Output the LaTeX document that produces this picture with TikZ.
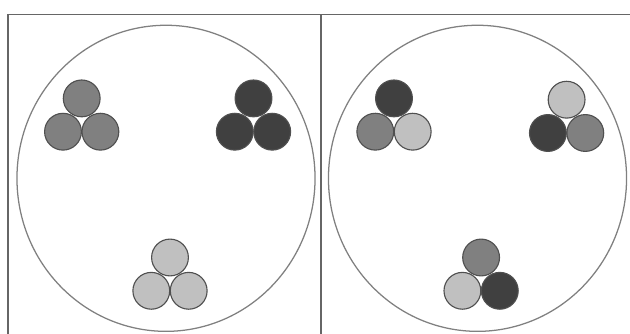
\documentclass[tikz,border=0pt]{standalone}
\usepackage{xcolor}
\usepackage{tikz}
\usetikzlibrary{shapes.geometric}
\definecolor{framegray}{HTML}{666666}
\definecolor{rimgray}{HTML}{808080}
\definecolor{edgegray}{HTML}{505050}
\definecolor{lightball}{HTML}{C0C0C0}
\definecolor{midball}{HTML}{808080}
\definecolor{darkball}{HTML}{404040}

\begin{document}
\begin{tikzpicture}[x=0.025cm, y=-0.025cm,
  plate/.style={ellipse, draw=rimgray, line width=0.9pt, minimum width=7.45cm,
                minimum height=7.65cm, inner sep=0pt},
  ball/.style={circle, draw=edgegray, line width=0.8pt, minimum size=0.92cm, inner sep=0pt}]
  \useasboundingbox (0,0) rectangle (630,334);
  % frame
  \coordinate (bl) at (8,334);
  \coordinate (tl) at (8,14.5);
  \coordinate (tr) at (630,14.5);
  \coordinate (mt) at (321,14.5);
  \coordinate (mb) at (321,334);
  \draw[framegray, line width=1pt] (bl) -- (tl) -- (tr);
  \draw[framegray, line width=1pt] (mt) -- (mb);
  % dishes
  \node[plate] (left) at (166,178.3) {};
  \node[plate] (right) at (477.5,178.3) {};
  % groups of three: base centre, top/left/right colours
  \foreach \cx/\cy/\ct/\cl/\cr/\nm in {
      81.7/131.7/midball/midball/midball/la,
      253.5/131.7/darkball/darkball/darkball/lb,
      170/290.8/lightball/lightball/lightball/lc,
      394/131.7/darkball/midball/lightball/ra,
      566.6/133/lightball/darkball/midball/rb,
      481.1/290.8/midball/lightball/darkball/rc} {
    \node[ball, fill=\ct] (\nm t) at (\cx,\cy-33.3) {};
    \node[ball, fill=\cl] (\nm l) at (\cx-18.7,\cy) {};
    \node[ball, fill=\cr] (\nm r) at (\cx+18.7,\cy) {};
  }
\end{tikzpicture}
\end{document}
